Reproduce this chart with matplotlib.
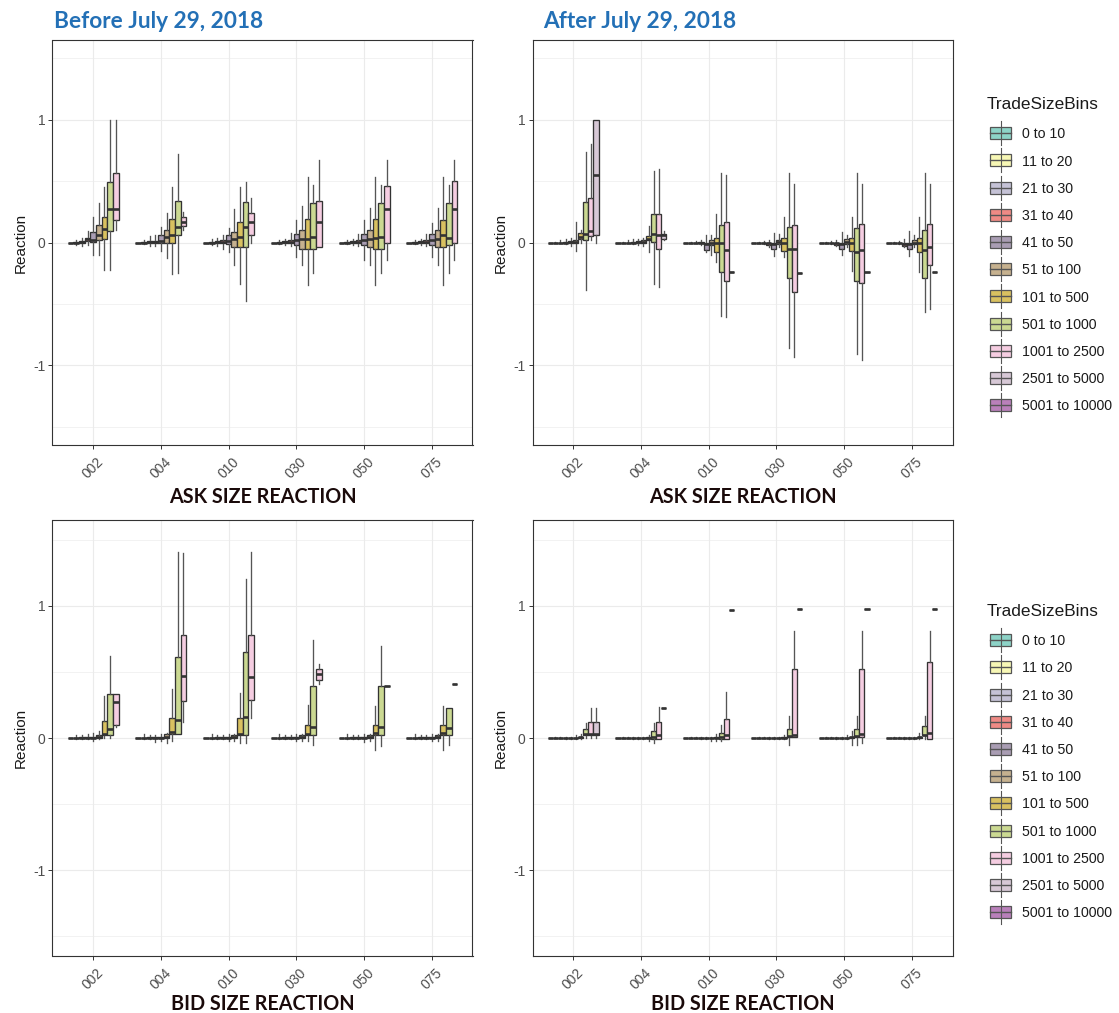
import matplotlib
matplotlib.use("Agg")
import matplotlib.pyplot as plt
import matplotlib.transforms as mtransforms
from matplotlib.patches import Rectangle
from matplotlib.lines import Line2D

plt.rcParams['font.family'] = ['Liberation Sans', 'DejaVu Sans']

categories = ['002', '004', '010', '030', '050', '075']
bins = ['0 to 10', '11 to 20', '21 to 30', '31 to 40', '41 to 50', '51 to 100',
        '101 to 500', '501 to 1000', '1001 to 2500', '2501 to 5000', '5001 to 10000']
bin_colors = ['#8DD3C7', '#F7F7B5', '#C5C2D6', '#EF8A85', '#A99DB3', '#C6B18F',
              '#D9C160', '#CBD992', '#F5CDE1', '#D7C8D6', '#B980BA']

# each box: (whisker low, q1, median, q3, whisker high), one list per category
ask_before = [
    [(0, 0, 0, 0, 0), (-0.02, 0, 0, 0.005, 0.02), (-0.03, 0, 0.003, 0.01, 0.04),
     (-0.02, 0.01, 0.025, 0.04, 0.09), (-0.10, 0.005, 0.02, 0.086, 0.21),
     (-0.10, 0.02, 0.06, 0.146, 0.32), (-0.22, 0.027, 0.11, 0.21, 0.45),
     (-0.22, 0.095, 0.27, 0.49, 1.0), (0.10, 0.18, 0.275, 0.57, 1.0)],
    [(0, 0, 0, 0, 0), (-0.01, 0, 0, 0.005, 0.02), (-0.03, 0, 0.002, 0.01, 0.05),
     (-0.03, 0, 0.005, 0.015, 0.06), (-0.07, 0, 0.01, 0.06, 0.13),
     (-0.13, 0.0, 0.046, 0.10, 0.24), (-0.26, 0.0, 0.06, 0.19, 0.45),
     (-0.25, 0.06, 0.13, 0.34, 0.72), (0.10, 0.135, 0.17, 0.21, 0.25)],
    [(0, 0, 0, 0, 0), (-0.02, 0, 0, 0.005, 0.03), (-0.03, 0, 0.003, 0.01, 0.04),
     (-0.05, 0, 0.005, 0.02, 0.06), (-0.08, -0.01, 0.01, 0.06, 0.12),
     (-0.18, -0.035, 0.03, 0.086, 0.27), (-0.34, -0.035, 0.046, 0.17, 0.45),
     (-0.48, -0.035, 0.13, 0.33, 0.49), (0.0, 0.06, 0.17, 0.24, 0.36)],
    [(0, 0, 0, 0, 0), (-0.01, 0, 0, 0.003, 0.02), (-0.02, 0, 0.002, 0.01, 0.03),
     (-0.03, 0, 0.005, 0.02, 0.08), (-0.12, -0.02, 0.02, 0.068, 0.18),
     (-0.18, -0.05, 0.03, 0.10, 0.30), (-0.35, -0.05, 0.03, 0.19, 0.53),
     (-0.25, -0.05, 0.046, 0.32, 0.47), (-0.035, -0.035, 0.17, 0.34, 0.67)],
    [(0, 0, 0, 0, 0), (-0.01, 0, 0, 0.003, 0.02), (-0.02, 0, 0.002, 0.01, 0.03),
     (-0.03, 0, 0.005, 0.02, 0.07), (-0.14, -0.02, 0.02, 0.068, 0.18),
     (-0.18, -0.035, 0.03, 0.10, 0.28), (-0.35, -0.05, 0.04, 0.19, 0.53),
     (-0.25, -0.05, 0.046, 0.32, 0.47), (-0.14, 0.0, 0.27, 0.46, 0.67)],
    [(0, 0, 0, 0, 0), (-0.01, 0, 0, 0.003, 0.02), (-0.02, 0, 0.002, 0.01, 0.03),
     (-0.03, 0, 0.005, 0.02, 0.07), (-0.12, -0.02, 0.02, 0.068, 0.16),
     (-0.18, -0.035, 0.03, 0.10, 0.28), (-0.35, -0.035, 0.06, 0.18, 0.53),
     (-0.25, -0.02, 0.04, 0.32, 0.47), (-0.14, 0.0, 0.27, 0.50, 0.67)],
]

ask_after = [
    [(0, 0, 0, 0, 0), (0, 0, 0, 0, 0.005), (-0.005, 0, 0, 0, 0.02),
     (-0.01, 0, 0, 0.003, 0.03), (-0.03, 0, 0.003, 0.01, 0.04),
     (-0.07, 0, 0.005, 0.02, 0.17), (0.0, 0.027, 0.046, 0.078, 0.10),
     (-0.39, 0.02, 0.07, 0.33, 0.74), (0.02, 0.05, 0.09, 0.36, 0.80),
     (0.0, 0.06, 0.55, 1.0, 1.0)],
    [(0, 0, 0, 0, 0), (0, 0, 0, 0, 0.005), (-0.005, 0, 0, 0, 0.02),
     (-0.01, 0, 0, 0.003, 0.03), (-0.02, 0, 0.003, 0.01, 0.03),
     (-0.03, 0, 0.005, 0.02, 0.04), (-0.08, 0.02, 0.03, 0.05, 0.135),
     (-0.34, 0.005, 0.068, 0.23, 0.58), (-0.36, -0.05, 0.06, 0.23, 0.60),
     (0.02, 0.03, 0.06, 0.068, 0.09)],
    [(0, 0, 0, 0, 0), (0, 0, 0, 0, 0.005), (-0.005, 0, 0, 0, 0.01),
     (-0.02, 0, 0, 0.003, 0.02), (-0.08, -0.06, -0.01, 0, 0.06),
     (-0.10, -0.02, 0, 0.02, 0.06), (-0.16, -0.076, 0, 0.04, 0.23),
     (-0.60, -0.24, 0, 0.146, 0.57), (-0.61, -0.31, -0.06, 0.165, 0.55),
     (-0.24, -0.24, -0.24, -0.24, -0.24)],
    [(0, 0, 0, 0, 0), (0, 0, 0, 0, 0.005), (-0.01, 0, 0, 0, 0.01),
     (-0.04, -0.02, -0.005, 0, 0.02), (-0.11, -0.05, -0.01, 0, 0.08),
     (-0.035, -0.013, 0.005, 0.024, 0.07), (-0.12, -0.07, 0, 0.04, 0.21),
     (-0.86, -0.29, -0.05, 0.127, 0.57), (-0.935, -0.405, -0.054, 0.146, 0.48),
     (-0.246, -0.246, -0.246, -0.246, -0.246)],
    [(0, 0, 0, 0, 0), (0, 0, 0, 0, 0.005), (-0.01, 0, 0, 0, 0.01),
     (-0.03, -0.02, -0.005, 0, 0.02), (-0.10, -0.05, -0.01, 0, 0.086),
     (-0.04, -0.01, 0.005, 0.03, 0.06), (-0.23, -0.068, 0, 0.04, 0.21),
     (-0.905, -0.31, -0.08, 0.116, 0.57), (-0.96, -0.327, -0.06, 0.154, 0.48),
     (-0.24, -0.24, -0.24, -0.24, -0.24)],
    [(0, 0, 0, 0, 0), (0, 0, 0, 0, 0.005), (-0.01, 0, 0, 0, 0.01),
     (-0.04, -0.027, -0.01, 0, 0.03), (-0.11, -0.05, -0.01, 0, 0.09),
     (-0.035, -0.01, 0, 0.02, 0.06), (-0.24, -0.076, 0, 0.04, 0.21),
     (-0.57, -0.29, -0.06, 0.105, 0.57), (-0.54, -0.184, -0.04, 0.154, 0.48),
     (-0.24, -0.24, -0.24, -0.24, -0.24)],
]

bid_before = [
    [(0, 0, 0, 0, 0), (-0.01, 0, 0, 0.003, 0.02), (-0.01, 0, 0, 0.005, 0.02),
     (-0.01, 0, 0, 0.005, 0.03), (-0.02, 0, 0.003, 0.01, 0.04),
     (-0.01, 0, 0.005, 0.02, 0.05), (0.0, 0.025, 0.033, 0.13, 0.32),
     (0.0, 0.025, 0.07, 0.33, 0.62), (0.085, 0.10, 0.27, 0.33, 0.33)],
    [(0, 0, 0, 0, 0), (-0.01, 0, 0, 0.003, 0.03), (-0.01, 0, 0, 0.005, 0.02),
     (-0.03, 0, 0, 0.005, 0.02), (-0.02, 0, 0.003, 0.01, 0.03),
     (-0.04, 0, 0.01, 0.03, 0.04), (-0.02, 0.033, 0.046, 0.153, 0.37),
     (0.033, 0.033, 0.135, 0.61, 1.41), (0.12, 0.28, 0.466, 0.78, 1.40)],
    [(0, 0, 0, 0, 0), (-0.01, 0, 0, 0.003, 0.03), (-0.01, 0, 0, 0.005, 0.02),
     (-0.01, 0, 0, 0.005, 0.02), (-0.02, 0, 0.003, 0.01, 0.03),
     (-0.02, 0, 0.005, 0.02, 0.03), (-0.04, 0.025, 0.033, 0.153, 0.34),
     (-0.04, 0.025, 0.16, 0.65, 1.2), (0.15, 0.287, 0.46, 0.78, 1.41)],
    [(0, 0, 0, 0, 0), (-0.01, 0, 0, 0.003, 0.03), (-0.01, 0, 0, 0.005, 0.02),
     (-0.01, 0, 0, 0.005, 0.02), (-0.02, 0, 0.003, 0.01, 0.03),
     (-0.02, 0, 0.005, 0.02, 0.03), (-0.02, 0.025, 0.03, 0.10, 0.25),
     (-0.056, 0.025, 0.084, 0.39, 0.74), (0.41, 0.44, 0.483, 0.524, 0.56)],
    [(0, 0, 0, 0, 0), (-0.01, 0, 0, 0.003, 0.03), (-0.01, 0, 0, 0.005, 0.02),
     (-0.01, 0, 0, 0.005, 0.02), (-0.03, 0, 0.003, 0.01, 0.03),
     (-0.02, 0, 0.005, 0.02, 0.03), (-0.09, 0.025, 0.04, 0.097, 0.24),
     (-0.06, 0.025, 0.084, 0.39, 0.695), (0.397, 0.397, 0.397, 0.397, 0.397)],
    [(0, 0, 0, 0, 0), (-0.01, 0, 0, 0.003, 0.03), (-0.01, 0, 0, 0.005, 0.02),
     (-0.01, 0, 0, 0.005, 0.02), (-0.02, 0, 0.003, 0.01, 0.03),
     (-0.02, 0, 0.005, 0.02, 0.03), (-0.09, 0.025, 0.04, 0.097, 0.24),
     (-0.056, 0.025, 0.076, 0.224, 0.224), (0.407, 0.407, 0.407, 0.407, 0.407)],
]

bid_after = [
    [(0, 0, 0, 0, 0), (0, 0, 0, 0, 0.005), (0, 0, 0, 0, 0.005),
     (-0.005, 0, 0, 0, 0.01), (-0.005, 0, 0, 0, 0.01),
     (-0.005, 0, 0, 0.003, 0.02), (-0.005, 0, 0.005, 0.01, 0.03),
     (0, 0.02, 0.028, 0.07, 0.117), (0, 0.02, 0.033, 0.122, 0.224),
     (0, 0.02, 0.033, 0.122, 0.224)],
    [(0, 0, 0, 0, 0), (0, 0, 0, 0, 0.005), (0, 0, 0, 0, 0.005),
     (-0.005, 0, 0, 0, 0.01), (-0.005, 0, 0, 0, 0.01),
     (-0.01, 0, 0, 0.003, 0.01), (-0.02, 0, 0, 0.005, 0.02),
     (-0.04, -0.005, 0.008, 0.05, 0.114), (-0.005, -0.005, 0.02, 0.122, 0.237),
     (0.229, 0.229, 0.229, 0.229, 0.229)],
    [(0, 0, 0, 0, 0), (0, 0, 0, 0, 0.005), (0, 0, 0, 0, 0.005),
     (-0.005, 0, 0, 0, 0.01), (-0.005, 0, 0, 0, 0.01),
     (-0.02, 0, 0, 0.003, 0.01), (-0.02, 0, 0, 0.005, 0.03),
     (-0.02, -0.005, 0.008, 0.04, 0.10), (-0.005, -0.005, 0.02, 0.142, 0.35),
     (0.97, 0.97, 0.97, 0.97, 0.97)],
    [(0, 0, 0, 0, 0), (0, 0, 0, 0, 0.005), (0, 0, 0, 0, 0.005),
     (-0.005, 0, 0, 0, 0.01), (-0.005, 0, 0, 0, 0.01),
     (-0.01, 0, 0, 0.003, 0.01), (-0.01, 0, 0, 0.005, 0.02),
     (-0.056, 0.008, 0.015, 0.07, 0.17), (0.008, 0.008, 0.02, 0.524, 0.81),
     (0.98, 0.98, 0.98, 0.98, 0.98)],
    [(0, 0, 0, 0, 0), (0, 0, 0, 0, 0.005), (0, 0, 0, 0, 0.005),
     (-0.005, 0, 0, 0, 0.01), (-0.005, 0, 0, 0, 0.01),
     (-0.01, 0, 0, 0.003, 0.02), (-0.056, 0, 0.005, 0.01, 0.05),
     (-0.056, 0.008, 0.015, 0.07, 0.17), (-0.04, 0.008, 0.028, 0.524, 0.81),
     (0.98, 0.98, 0.98, 0.98, 0.98)],
    [(0, 0, 0, 0, 0), (0, 0, 0, 0, 0.005), (0, 0, 0, 0, 0.005),
     (-0.005, 0, 0, 0, 0.01), (-0.005, 0, 0, 0, 0.01),
     (-0.01, 0, 0, 0.003, 0.01), (-0.01, 0, 0.005, 0.01, 0.04),
     (-0.005, 0.02, 0.025, 0.089, 0.17), (-0.005, -0.005, 0.04, 0.575, 0.81),
     (0.98, 0.98, 0.98, 0.98, 0.98)],
]

W, H = 1119, 1013
fig = plt.figure(figsize=(W / 100, H / 100), dpi=100)
# pixel coordinates measured from the top-left corner of the figure
px = mtransforms.Affine2D().scale(1 / W, -1 / H).translate(0, 1) + fig.transFigure


def px_axes(x0, y0, x1, y1):
    return fig.add_axes([x0 / W, 1 - y1 / H, (x1 - x0) / W, (y1 - y0) / H])


def draw_panel(ax, data, xlabel, label_y):
    for ci, boxes in enumerate(data):
        n = len(boxes)
        slot = 0.75 / n
        pos = [ci + 1 - 0.375 + slot * (i + 0.5) for i in range(n)]
        stats = [dict(whislo=b[0], q1=b[1], med=b[2], q3=b[3], whishi=b[4]) for b in boxes]
        art = ax.bxp(stats, positions=pos, widths=slot, patch_artist=True,
                     showfliers=False, showcaps=False, manage_ticks=False,
                     boxprops=dict(edgecolor='#333333', linewidth=0.95),
                     whiskerprops=dict(color='#555555', linewidth=0.95),
                     medianprops=dict(color='#333333', linewidth=1.9, solid_capstyle='butt'))
        for patch, color in zip(art['boxes'], bin_colors):
            patch.set_facecolor(color)
    ax.set_xlim(0.4, 6.6)
    ax.set_ylim(-1.65, 1.65)
    ax.set_xticks(range(1, 7))
    ax.set_xticklabels(categories, rotation=45, ha='center', va='center', rotation_mode='anchor')
    ax.set_yticks([-1, 0, 1])
    ax.set_yticklabels(['-1', '0', '1'])
    ax.set_yticks([-1.5, -0.5, 0.5, 1.5], minor=True)
    ax.grid(True, which='major', color='#EBEBEB', linewidth=0.8)
    ax.grid(True, which='minor', axis='y', color='#EBEBEB', linewidth=0.45)
    ax.set_axisbelow(True)
    ax.tick_params(axis='both', which='major', length=2.8, width=0.7, color='#333333',
                   labelsize=10, labelcolor='#4D4D4D', pad=2.5)
    ax.tick_params(axis='x', which='major', pad=13.7)
    ax.tick_params(axis='y', which='minor', length=0)
    for sp in ax.spines.values():
        sp.set_color('#333333')
        sp.set_linewidth(0.8)
    ax.set_ylabel('Reaction', fontsize=11, color='#1A1A1A', labelpad=4)
    ax.set_xlabel(xlabel, fontsize=14.2, fontweight='bold', family=['Lato', 'DejaVu Sans'],
                  color='#1A0A0A')
    bb = ax.get_position()
    ax.xaxis.set_label_coords(0.5, (1 - label_y / H - bb.y0) / bb.height)
    ax.xaxis.label.set_va('baseline')


def add_legend(top):
    # top = pixel row of the legend title's cap centre
    fig.text(986.5, top + 6, 'TradeSizeBins', transform=px, fontsize=12.4,
             color='#1A1A1A', va='baseline', ha='left')
    for i, (lab, color) in enumerate(zip(bins, bin_colors)):
        cy = top + 30 + 27.2 * i
        fig.add_artist(Line2D([1000.5, 1000.5], [cy - 12, cy + 12], transform=px,
                              color='#555555', linewidth=0.8))
        fig.add_artist(Rectangle((990, cy - 6), 21, 12, transform=px, facecolor=color,
                                 edgecolor='#555555', linewidth=0.9))
        fig.add_artist(Line2D([990, 1011], [cy, cy], transform=px,
                              color='#555555', linewidth=1.0))
        fig.text(1021.5, cy + 5, lab, transform=px, fontsize=10.2, color='#1A1A1A',
                 va='baseline', ha='left')


ax1 = px_axes(52.5, 40, 472.5, 445)
ax2 = px_axes(532.5, 40, 952.5, 445)
ax3 = px_axes(52.5, 520, 472.5, 956)
ax4 = px_axes(532.5, 520, 952.5, 956)

draw_panel(ax1, ask_before, 'ASK SIZE REACTION', 503)
draw_panel(ax2, ask_after, 'ASK SIZE REACTION', 503)
draw_panel(ax3, bid_before, 'BID SIZE REACTION', 1010)
draw_panel(ax4, bid_after, 'BID SIZE REACTION', 1010)

title_style = dict(fontsize=16.3, fontweight='bold', color='#2370B6', va='baseline', ha='left',
                   family=['Lato', 'DejaVu Sans'], transform=px)
fig.text(54, 27.5, 'Before July 29, 2018', **title_style)
fig.text(543, 27.5, 'After July 29, 2018', **title_style)

add_legend(103.3)
add_legend(610.3)

fig.savefig('out.png', dpi=100)
